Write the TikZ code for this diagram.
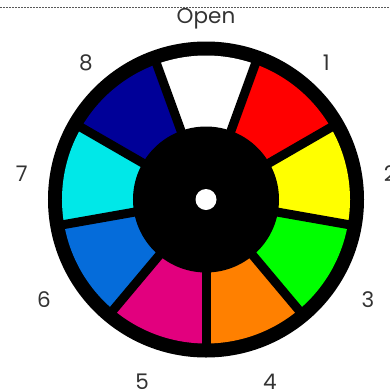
\documentclass[tikz,border=0pt]{standalone}
\usepackage{fontspec}
\setmainfont{Poppins}
\usetikzlibrary{positioning, calc}
\definecolor{wRed}{RGB}{255,0,0}
\definecolor{wYellow}{RGB}{255,255,0}
\definecolor{wGreen}{RGB}{0,255,0}
\definecolor{wOrange}{RGB}{255,128,0}
\definecolor{wMagenta}{RGB}{226,0,126}
\definecolor{wBlue}{RGB}{5,108,218}
\definecolor{wCyan}{RGB}{0,232,232}
\definecolor{wNavy}{RGB}{0,0,152}
\definecolor{lblgray}{RGB}{51,51,51}

\begin{document}
\begin{tikzpicture}[x=1pt, y=1pt,
    sep/.style={line width=9pt, draw=black},
    lbl/.style={font=\fontsize{21.5}{25}\selectfont, text=lblgray},
    rule/.style={draw=black!65, line width=1.2pt, dash pattern=on 2pt off 1pt}
]
    \useasboundingbox (-206,-189.5) rectangle (184,199.5);
    \coordinate (c) at (0,0);
    \coordinate (lc) at (0,-6.5);
    % dotted rule at the top
    \coordinate (ruleL) at (-206,192);
    \coordinate (ruleR) at (184,192);
    \draw[rule] (ruleL) -- (ruleR);
    % wheel
    \fill[black] (c) circle (158);
    \foreach \a/\col in {90/white, 50/wRed, 10/wYellow, -30/wGreen, -70/wOrange,
                         -110/wMagenta, -150/wBlue, 170/wCyan, 130/wNavy} {
        \fill[\col] ($(c)+({\a-20}:144)$) arc[start angle=\a-20, end angle=\a+20, radius=144]
            -- ($(c)+({\a+20}:60)$) arc[start angle=\a+20, end angle=\a-20, radius=60] -- cycle;
    }
    \foreach \b in {70,30,-10,-50,-90,-130,-170,150,110}
        \draw[sep] (c) -- ($(c)+(\b:150)$);
    \fill[black] (c) circle (73);
    \fill[white] (c) circle (10.5);
    % labels
    \node[lbl] (open) at ($(lc)+(90:187)$) {Open};
    \foreach \n/\a in {1/50, 2/10, 3/-30, 4/-70, 5/-110, 6/-150, 7/170, 8/130}
        \node[lbl] (pos\n) at ($(lc)+(\a:187)$) {\n};
\end{tikzpicture}
\end{document}
